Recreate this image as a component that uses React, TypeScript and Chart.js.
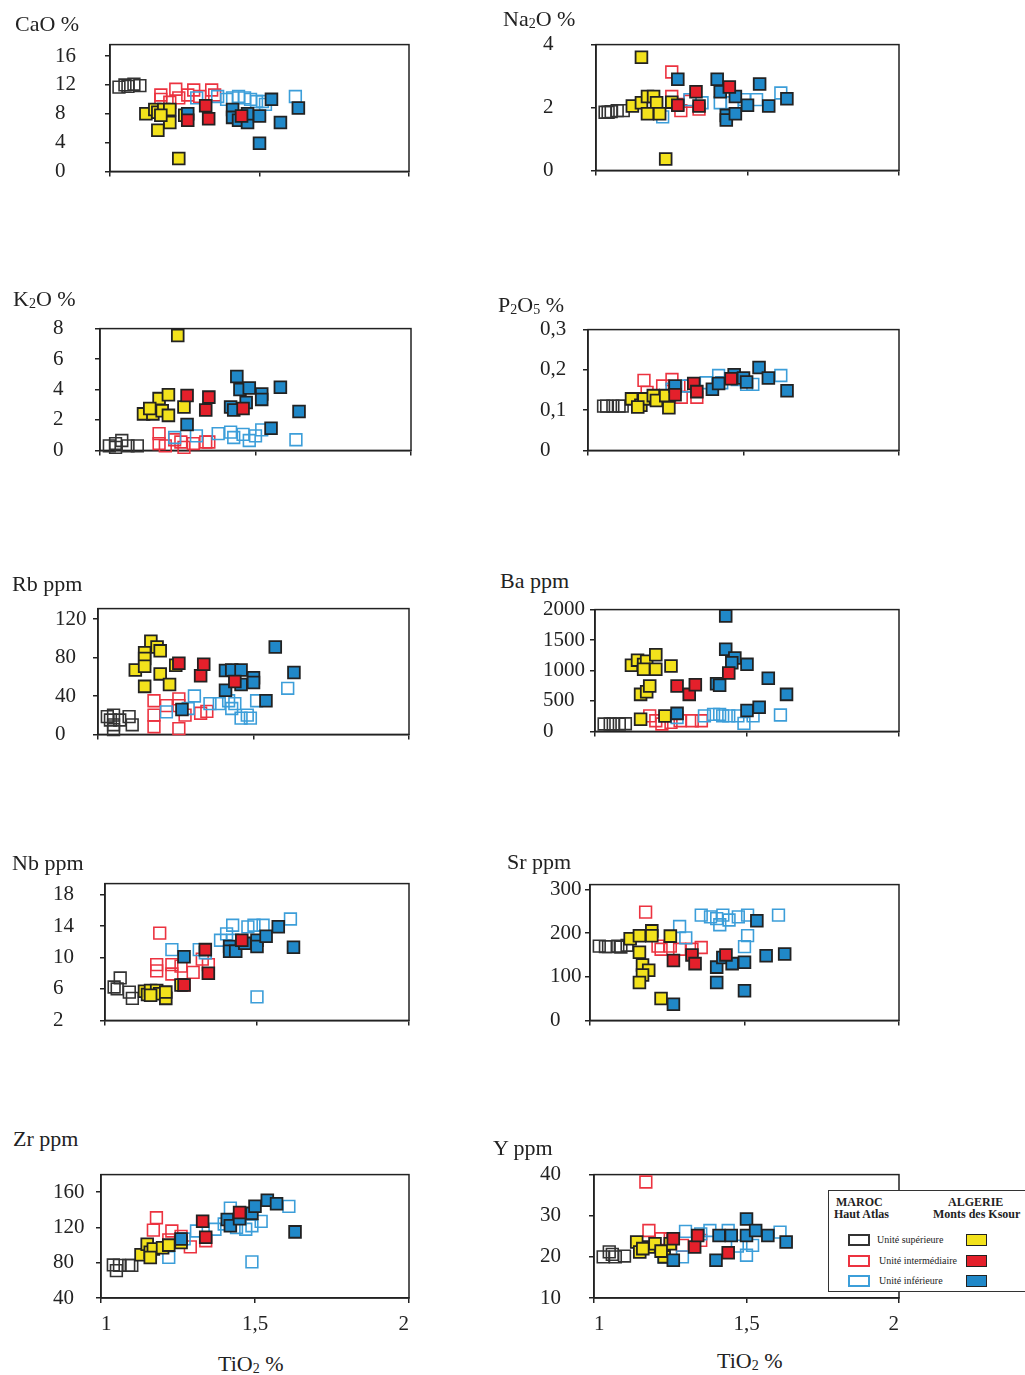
import React, { useEffect, useRef } from "react";
import { Chart, registerables } from "chart.js";
Chart.register(...registerables);

type Pt = [number, number];

// ---------- labels ----------
const UNITS = ["Unité supérieure", "Unité intermédiaire", "Unité inférieure"];
const GROUP_MAROC = ["MAROC", "Haut Atlas"];
const GROUP_ALGERIE = ["ALGERIE", "Monts des Ksour"];
const X_TITLE = "TiO_2 %";
const X_TICKS = [1, 1.5, 2];

// ---------- CaO ----------
const caoTicks = [0, 4, 8, 12, 16];
const cao_ms: Pt[] = [[1.03, 11.7], [1.05, 12.0], [1.06, 11.8], [1.08, 12.1], [1.10, 11.9]];
const cao_mi: Pt[] = [[1.17, 10.6], [1.17, 10.0], [1.22, 11.4], [1.23, 10.2], [1.26, 10.6], [1.28, 11.3], [1.30, 10.4], [1.34, 11.3], [1.35, 10.6], [1.20, 9.6]];
const cao_mf: Pt[] = [[1.29, 10.2], [1.36, 10.4], [1.39, 10.0], [1.41, 10.2], [1.43, 10.4], [1.45, 10.2], [1.47, 10.0], [1.49, 9.7], [1.51, 9.7], [1.52, 9.3], [1.62, 10.4]];
const cao_as: Pt[] = [[1.12, 8.0], [1.15, 8.6], [1.16, 8.2], [1.18, 8.6], [1.20, 8.6], [1.20, 6.8], [1.16, 5.7], [1.25, 7.8], [1.23, 1.8], [1.17, 7.8]];
const cao_ai: Pt[] = [[1.26, 7.1], [1.32, 9.1], [1.33, 7.3], [1.44, 7.7]];
const cao_af: Pt[] = [[1.26, 8.0], [1.41, 8.6], [1.41, 7.5], [1.43, 7.1], [1.46, 6.8], [1.46, 8.0], [1.50, 7.7], [1.50, 3.9], [1.54, 10.0], [1.57, 6.8], [1.63, 8.8]];

// ---------- Na2O ----------
const naTicks = [0, 2, 4];
const na_ms: Pt[] = [[1.03, 1.85], [1.04, 1.85], [1.05, 1.87], [1.07, 1.9], [1.09, 1.9]];
const na_mi: Pt[] = [[1.25, 3.13], [1.25, 2.35], [1.28, 1.9], [1.31, 2.2], [1.34, 1.95], [1.27, 2.1]];
const na_mf: Pt[] = [[1.22, 1.7], [1.31, 2.25], [1.35, 2.15], [1.41, 2.15], [1.45, 2.15], [1.49, 2.25], [1.53, 2.25], [1.61, 2.46]];
const na_as: Pt[] = [[1.15, 3.6], [1.12, 2.05], [1.15, 2.15], [1.17, 2.35], [1.19, 2.35], [1.20, 2.15], [1.17, 1.8], [1.21, 1.8], [1.25, 2.17], [1.23, 0.36]];
const na_ai: Pt[] = [[1.27, 2.07], [1.33, 2.5], [1.34, 2.05], [1.44, 2.65]];
const na_af: Pt[] = [[1.27, 2.9], [1.40, 2.9], [1.41, 2.5], [1.43, 1.75], [1.43, 1.6], [1.46, 1.8], [1.46, 2.35], [1.50, 2.07], [1.54, 2.75], [1.57, 2.05], [1.63, 2.28]];

// ---------- K2O ----------
const kTicks = [0, 2, 4, 6, 8];
const k_ms: Pt[] = [[1.05, 0.45], [1.07, 0.65], [1.09, 0.3], [1.12, 0.3], [1.05, 0.2], [1.03, 0.3]];
const k_mi: Pt[] = [[1.19, 1.1], [1.19, 0.45], [1.24, 0.7], [1.26, 0.55], [1.27, 0.2], [1.30, 0.45], [1.34, 0.55], [1.35, 0.55], [1.21, 0.3]];
const k_mf: Pt[] = [[1.24, 0.85], [1.31, 0.95], [1.38, 1.1], [1.42, 1.2], [1.43, 0.85], [1.46, 1.05], [1.48, 0.65], [1.50, 0.95], [1.52, 1.35], [1.63, 0.7]];
const k_as: Pt[] = [[1.25, 7.55], [1.14, 2.4], [1.17, 2.4], [1.19, 3.4], [1.20, 2.6], [1.22, 2.3], [1.22, 3.65], [1.27, 2.85], [1.16, 2.75]];
const k_ai: Pt[] = [[1.28, 3.6], [1.34, 2.65], [1.35, 3.5], [1.46, 2.75]];
const k_af: Pt[] = [[1.28, 1.7], [1.42, 2.85], [1.43, 2.65], [1.44, 4.85], [1.45, 4.0], [1.48, 4.1], [1.47, 3.15], [1.52, 3.7], [1.52, 3.35], [1.55, 1.45], [1.58, 4.15], [1.64, 2.55]];

// ---------- P2O5 ----------
const pTicks = [0, 0.1, 0.2, 0.3];
const p_ms: Pt[] = [[1.05, 0.11], [1.06, 0.11], [1.08, 0.11], [1.10, 0.11], [1.11, 0.11]];
const p_mi: Pt[] = [[1.18, 0.174], [1.19, 0.144], [1.24, 0.16], [1.27, 0.176], [1.28, 0.152], [1.30, 0.132], [1.35, 0.132], [1.33, 0.16]];
const p_mf: Pt[] = [[1.27, 0.152], [1.32, 0.16], [1.38, 0.168], [1.42, 0.186], [1.43, 0.168], [1.48, 0.176], [1.51, 0.164], [1.53, 0.164], [1.62, 0.186]];
const p_as: Pt[] = [[1.14, 0.128], [1.17, 0.112], [1.18, 0.128], [1.21, 0.136], [1.22, 0.124], [1.25, 0.136], [1.26, 0.106], [1.16, 0.108]];
const p_ai: Pt[] = [[1.28, 0.138], [1.34, 0.166], [1.35, 0.146], [1.46, 0.178]];
const p_af: Pt[] = [[1.28, 0.16], [1.40, 0.152], [1.42, 0.166], [1.47, 0.188], [1.50, 0.18], [1.51, 0.17], [1.55, 0.206], [1.58, 0.18], [1.64, 0.148]];

// ---------- Rb ----------
const rbTicks = [0, 40, 80, 120];
const rb_ms: Pt[] = [[1.03, 18.5], [1.05, 20], [1.05, 10], [1.07, 15], [1.10, 18.5], [1.11, 10], [1.05, 5], [1.04, 15]];
const rb_mi: Pt[] = [[1.18, 35], [1.18, 20], [1.18, 8], [1.22, 30], [1.26, 37], [1.26, 30], [1.26, 6], [1.28, 20], [1.33, 22], [1.35, 24]];
const rb_mf: Pt[] = [[1.22, 23.5], [1.31, 40], [1.29, 27], [1.36, 32], [1.39, 32], [1.42, 35], [1.43, 27], [1.44, 32], [1.46, 17], [1.48, 20], [1.49, 17], [1.51, 35], [1.61, 48]];
const rb_as: Pt[] = [[1.17, 97], [1.15, 85], [1.19, 91], [1.20, 87], [1.15, 79], [1.12, 67], [1.15, 71], [1.20, 63], [1.25, 72], [1.15, 50], [1.23, 52]];
const rb_ai: Pt[] = [[1.26, 74], [1.33, 61], [1.34, 73], [1.44, 55]];
const rb_af: Pt[] = [[1.27, 26], [1.41, 46], [1.41, 66.5], [1.43, 67], [1.46, 52], [1.46, 67], [1.50, 59], [1.50, 54], [1.54, 35], [1.57, 91], [1.63, 64.5]];

// ---------- Ba ----------
const baTicks = [0, 500, 1000, 1500, 2000];
const ba_ms: Pt[] = [[1.03, 122], [1.05, 122], [1.06, 122], [1.08, 122], [1.10, 125]];
const ba_mi: Pt[] = [[1.18, 254], [1.22, 122], [1.25, 148], [1.28, 175], [1.32, 175], [1.35, 175], [1.20, 175]];
const ba_mf: Pt[] = [[1.27, 228], [1.36, 254], [1.39, 280], [1.41, 280], [1.42, 254], [1.44, 254], [1.47, 254], [1.49, 132], [1.52, 254], [1.61, 270]];
const ba_as: Pt[] = [[1.12, 1085], [1.14, 1170], [1.16, 1100], [1.17, 1153], [1.16, 1021], [1.20, 1259], [1.20, 1021], [1.25, 1074], [1.15, 608], [1.17, 651], [1.18, 746], [1.15, 201], [1.23, 254]];
const ba_ai: Pt[] = [[1.27, 746], [1.31, 608], [1.33, 767], [1.44, 958]];
const ba_af: Pt[] = [[1.27, 296], [1.43, 1894], [1.43, 1349], [1.46, 1206], [1.45, 1127], [1.50, 1101], [1.40, 783], [1.41, 757], [1.50, 344], [1.54, 397], [1.57, 873], [1.63, 608]];

// ---------- Nb ----------
const nbTicks = [2, 6, 10, 14, 18];
const nb_ms: Pt[] = [[1.03, 6.25], [1.05, 7.4], [1.04, 6.0], [1.09, 4.8], [1.08, 5.6]];
const nb_mi: Pt[] = [[1.18, 13.1], [1.17, 9.1], [1.17, 8.3], [1.22, 9.1], [1.22, 7.9], [1.25, 8.9], [1.29, 8.1], [1.32, 9.8], [1.34, 9.1], [1.26, 6.5]];
const nb_mf: Pt[] = [[1.22, 11.0], [1.31, 11.0], [1.33, 10.6], [1.38, 12.2], [1.40, 13.0], [1.42, 14.1], [1.47, 13.9], [1.49, 14.1], [1.52, 14.1], [1.61, 14.9], [1.50, 5.0], [1.42, 12.2]];
const nb_as: Pt[] = [[1.13, 5.7], [1.14, 5.3], [1.15, 5.8], [1.17, 5.8], [1.18, 5.4], [1.20, 4.8], [1.20, 5.6], [1.25, 6.5], [1.15, 5.2]];
const nb_ai: Pt[] = [[1.26, 6.5], [1.33, 11.0], [1.34, 8.0], [1.45, 12.2]];
const nb_af: Pt[] = [[1.26, 10.1], [1.41, 11.4], [1.41, 10.8], [1.43, 10.8], [1.46, 11.8], [1.50, 12.2], [1.50, 11.4], [1.53, 12.7], [1.57, 13.9], [1.62, 11.3]];

// ---------- Sr ----------
const srTicks = [0, 100, 200, 300];
const sr_ms: Pt[] = [[1.03, 170], [1.05, 169], [1.06, 169], [1.09, 170], [1.10, 168], [1.12, 172]];
const sr_mi: Pt[] = [[1.18, 248], [1.23, 163], [1.26, 170], [1.29, 163], [1.33, 163], [1.36, 167], [1.22, 170]];
const sr_mf: Pt[] = [[1.29, 215], [1.31, 189], [1.36, 241], [1.39, 237], [1.41, 233], [1.42, 219], [1.45, 230], [1.48, 237], [1.51, 241], [1.51, 194], [1.50, 169], [1.61, 241], [1.43, 241]];
const sr_as: Pt[] = [[1.13, 187], [1.16, 194], [1.20, 205], [1.20, 194], [1.26, 193], [1.16, 156], [1.17, 127], [1.19, 115], [1.17, 104], [1.16, 87], [1.23, 50]];
const sr_ai: Pt[] = [[1.27, 137], [1.33, 150], [1.34, 130], [1.44, 150]];
const sr_af: Pt[] = [[1.27, 37], [1.41, 87], [1.41, 122], [1.43, 144], [1.46, 130], [1.50, 133], [1.50, 68], [1.54, 228], [1.57, 148], [1.63, 152]];

// ---------- Zr ----------
const zrTicks = [40, 80, 120, 160];
const zr_ms: Pt[] = [[1.04, 77.5], [1.05, 71], [1.06, 77], [1.09, 77], [1.10, 77]];
const zr_mi: Pt[] = [[1.18, 131], [1.17, 117], [1.23, 116], [1.26, 110], [1.29, 98], [1.34, 105], [1.22, 106]];
const zr_mf: Pt[] = [[1.22, 86], [1.27, 107], [1.31, 116], [1.37, 118], [1.40, 124], [1.42, 142], [1.44, 120], [1.47, 118], [1.49, 122], [1.52, 127], [1.49, 81], [1.61, 144]];
const zr_as: Pt[] = [[1.13, 89], [1.15, 101], [1.16, 92], [1.17, 95.5], [1.20, 97], [1.22, 100], [1.26, 103], [1.16, 86]];
const zr_ai: Pt[] = [[1.33, 127], [1.34, 109], [1.45, 137]];
const zr_af: Pt[] = [[1.26, 107], [1.41, 129], [1.42, 122], [1.45, 130], [1.49, 136], [1.50, 144], [1.54, 151], [1.57, 147], [1.63, 115]];

// ---------- Y ----------
const yTicks = [10, 20, 30, 40];
const y_ms: Pt[] = [[1.03, 20], [1.06, 20.6], [1.07, 20], [1.10, 20.2], [1.05, 21.2]];
const y_mi: Pt[] = [[1.17, 38.2], [1.18, 26.4], [1.22, 24.4], [1.29, 22.8], [1.35, 24], [1.25, 24.4]];
const y_mf: Pt[] = [[1.23, 20], [1.29, 20], [1.30, 26.2], [1.38, 26.4], [1.44, 26.4], [1.47, 22.6], [1.50, 20.4], [1.52, 22.8], [1.61, 26], [1.35, 25.6]];
const y_as: Pt[] = [[1.14, 23.6], [1.15, 21.2], [1.18, 22.4], [1.20, 23.2], [1.23, 20], [1.25, 23.2], [1.22, 21.4], [1.16, 22]];
const y_ai: Pt[] = [[1.26, 24.4], [1.33, 22.4], [1.34, 25.2], [1.44, 21]];
const y_af: Pt[] = [[1.26, 19.2], [1.40, 19.2], [1.41, 25.2], [1.45, 25.2], [1.50, 29.2], [1.50, 25.2], [1.53, 26.4], [1.57, 25.2], [1.63, 23.6]];

const TITLES = ["CaO %", "Na_2O %", "K_2O %", "P_2O_5 %", "Rb ppm", "Ba ppm", "Nb ppm", "Sr ppm", "Zr ppm", "Y ppm"];
const Y_MIN = [0, 0, 0, 0, 0, 0, 2, 0, 40, 10];
const Y_MAX = [17.6, 4, 8, 0.3, 131, 2000, 19.4, 311, 180, 40];
const TICKS = [caoTicks, naTicks, kTicks, pTicks, rbTicks, baTicks, nbTicks, srTicks, zrTicks, yTicks];
const SERIES: Pt[][][] = [
  [cao_ms, cao_mi, cao_mf, cao_as, cao_ai, cao_af],
  [na_ms, na_mi, na_mf, na_as, na_ai, na_af],
  [k_ms, k_mi, k_mf, k_as, k_ai, k_af],
  [p_ms, p_mi, p_mf, p_as, p_ai, p_af],
  [rb_ms, rb_mi, rb_mf, rb_as, rb_ai, rb_af],
  [ba_ms, ba_mi, ba_mf, ba_as, ba_ai, ba_af],
  [nb_ms, nb_mi, nb_mf, nb_as, nb_ai, nb_af],
  [sr_ms, sr_mi, sr_mf, sr_as, sr_ai, sr_af],
  [zr_ms, zr_mi, zr_mf, zr_as, zr_ai, zr_af],
  [y_ms, y_mi, y_mf, y_as, y_ai, y_af],
];

// ---------- styles / layout ----------
const SERIF = "'Liberation Serif', 'Times New Roman', serif";
const STYLES = [
  { bg: "rgba(0,0,0,0)", bc: "#333333", bw: 1.6, order: 6 },
  { bg: "rgba(0,0,0,0)", bc: "#EC3340", bw: 1.6, order: 5 },
  { bg: "rgba(0,0,0,0)", bc: "#3C9ED9", bw: 1.6, order: 4 },
  { bg: "#F3E21C", bc: "#222222", bw: 1.8, order: 3 },
  { bg: "#E4202B", bc: "#222222", bw: 1.8, order: 1 },
  { bg: "#2088C8", bc: "#222222", bw: 1.8, order: 2 },
];
const BOXES = [
  { l: 110, t: 43, r: 409, b: 174, lab: 55 },
  { l: 596, t: 43, r: 899, b: 173, lab: 543 },
  { l: 100, t: 327, r: 411, b: 453, lab: 53 },
  { l: 588, t: 328, r: 899, b: 453, lab: 540 },
  { l: 98, t: 607, r: 409, b: 737, lab: 55 },
  { l: 595, t: 608, r: 899, b: 734, lab: 543 },
  { l: 105, t: 882, r: 409, b: 1023, lab: 53 },
  { l: 590, t: 883, r: 899, b: 1023, lab: 550 },
  { l: 101, t: 1173, r: 409, b: 1298, lab: 53 },
  { l: 594, t: 1173, r: 899, b: 1298, lab: 540 },
];
const TITLE_POS = [[15, 13], [503, 8], [13, 288], [498, 294], [12, 573], [500, 570], [12, 852], [507, 851], [13, 1128], [493, 1137]];
const XTITLE_POS = [[218, 1353], [717, 1350]];

const fmt = (v: number) => String(v).replace(".", ",");

const framePlugin = {
  id: "frame",
  beforeDatasetsDraw(chart: any) {
    const { ctx, chartArea } = chart;
    const { left, top, right, bottom } = chartArea;
    ctx.save();
    ctx.strokeStyle = "#222";
    ctx.lineWidth = 1.5;
    ctx.strokeRect(left, top, right - left, bottom - top);
    ctx.restore();
  },
};

function Panel({ idx }: { idx: number }) {
  const ref = useRef<HTMLCanvasElement>(null);
  const box = BOXES[idx];
  const bottomRow = idx >= 8;
  const xh = bottomRow ? 45 : 14;
  const padL = 5, padT = 15, padR = 15;
  const cl = box.lab - padL;
  const ct = box.t - padT;
  const w = box.r - cl + padR;
  const h = box.b - box.t + padT + xh;

  useEffect(() => {
    const font = { family: SERIF, size: 21 };
    const datasets = SERIES[idx].map((pts, s) => ({
      label: (s < 3 ? "Maroc " : "Algérie ") + UNITS[s % 3],
      data: pts.map(([x, y]) => ({ x, y })),
      pointStyle: "rect",
      pointRadius: 8.3,
      pointHoverRadius: 8.3,
      backgroundColor: STYLES[s].bg,
      borderColor: STYLES[s].bc,
      borderWidth: STYLES[s].bw,
      order: STYLES[s].order,
      clip: false,
    }));
    const chart = new Chart(ref.current as HTMLCanvasElement, {
      type: "scatter",
      data: { datasets } as any,
      options: {
        animation: false,
        responsive: false,
        devicePixelRatio: 1,
        events: [],
        layout: { padding: { left: padL, top: padT, right: padR, bottom: 0 } },
        plugins: { legend: { display: false }, tooltip: { enabled: false } },
        scales: {
          x: {
            type: "linear",
            position: "bottom",
            min: 1,
            max: 2,
            afterBuildTicks: (a: any) => { a.ticks = X_TICKS.map((v) => ({ value: v })); },
            afterFit: (a: any) => { a.height = xh; },
            grid: { drawOnChartArea: false, drawTicks: true, tickLength: 5, color: "#222", lineWidth: 1.5 },
            border: { display: true, color: "#222", width: 1.5 },
            ticks: { display: bottomRow, autoSkip: false, maxRotation: 0, align: "inner", padding: 9, font, color: "#222", callback: (v: any) => fmt(Number(v)) },
          },
          y: {
            type: "linear",
            position: "left",
            min: Y_MIN[idx],
            max: Y_MAX[idx],
            afterBuildTicks: (a: any) => { a.ticks = TICKS[idx].map((v) => ({ value: v })); },
            afterFit: (a: any) => { a.width = box.l - box.lab; },
            grid: { drawOnChartArea: false, drawTicks: true, tickLength: 5, color: "#222", lineWidth: 1.5 },
            border: { display: true, color: "#222", width: 1.5 },
            ticks: { autoSkip: false, crossAlign: "far", padding: 4, font, color: "#222", callback: (v: any) => fmt(Number(v)) },
          },
        },
      } as any,
      plugins: [framePlugin],
    });
    return () => chart.destroy();
  }, []);

  return (
    <canvas
      ref={ref}
      width={w}
      height={h}
      style={{ position: "absolute", left: cl, top: ct, width: w, height: h }}
    />
  );
}

function RichText({ text, subSize }: { text: string; subSize: number }) {
  const parts = text.split(/_(\d)/);
  return (
    <>
      {parts.map((p, i) =>
        i % 2 ? (
          <span key={i} style={{ fontSize: subSize, verticalAlign: "-2px" }}>{p}</span>
        ) : (
          <span key={i}>{p}</span>
        )
      )}
    </>
  );
}

function Label({ text, left, top }: { text: string; left: number; top: number }) {
  return (
    <div style={{ position: "absolute", left, top, fontFamily: SERIF, fontSize: 22, lineHeight: "22px", whiteSpace: "nowrap", color: "#222" }}>
      <RichText text={text} subSize={14} />
    </div>
  );
}

function Legend() {
  const head: React.CSSProperties = { position: "absolute", fontFamily: SERIF, fontWeight: "bold", fontSize: 12, lineHeight: "12px", whiteSpace: "nowrap", color: "#222" };
  const unit: React.CSSProperties = { position: "absolute", left: 49, fontFamily: SERIF, fontSize: 10, lineHeight: "12px", whiteSpace: "nowrap", color: "#222" };
  const rows = [43, 64, 84];
  return (
    <div style={{ position: "absolute", left: 828, top: 1190, width: 200, height: 102, border: "1.5px solid #333", background: "#fff", boxSizing: "border-box" }}>
      <div style={{ ...head, left: 7, top: 5 }}>{GROUP_MAROC[0]}</div>
      <div style={{ ...head, left: 5, top: 17 }}>{GROUP_MAROC[1]}</div>
      <div style={{ ...head, left: 119, top: 5 }}>{GROUP_ALGERIE[0]}</div>
      <div style={{ ...head, left: 104, top: 17 }}>{GROUP_ALGERIE[1]}</div>
      {rows.map((top, i) => (
        <React.Fragment key={i}>
          <div style={{ position: "absolute", left: 19, top, width: 22, height: 12, border: `2px solid ${STYLES[i].bc}`, boxSizing: "border-box" }} />
          <div style={{ ...unit, top, left: i === 0 ? 48 : 50 }}>{UNITS[i]}</div>
          <div style={{ position: "absolute", left: 137, top, width: 21, height: 12, border: "1.5px solid #222", background: STYLES[i + 3].bg, boxSizing: "border-box" }} />
        </React.Fragment>
      ))}
    </div>
  );
}

export default function App() {
  return (
    <div style={{ position: "absolute", left: 0, top: 0, width: 1025, height: 1375, overflow: "hidden", background: "#fff" }}>
      {BOXES.map((_, i) => (
        <Panel key={i} idx={i} />
      ))}
      {TITLES.map((t, i) => (
        <Label key={t} text={t} left={TITLE_POS[i][0]} top={TITLE_POS[i][1]} />
      ))}
      {XTITLE_POS.map((p, i) => (
        <Label key={"x" + i} text={X_TITLE} left={p[0]} top={p[1]} />
      ))}
      <Legend />
    </div>
  );
}
